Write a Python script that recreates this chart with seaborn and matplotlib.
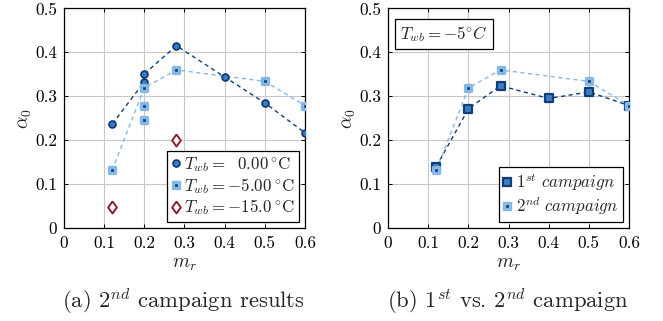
import matplotlib
matplotlib.use("Agg")
import matplotlib.pyplot as plt
from matplotlib.lines import Line2D
import seaborn as sns

# ---- data: (a) 2nd campaign results ----
mr_t0 = [0.12, 0.20, 0.20, 0.28, 0.40, 0.50, 0.60]
a0_t0 = [0.237, 0.333, 0.351, 0.415, 0.344, 0.285, 0.217]

mr_t5 = [0.12, 0.20, 0.20, 0.20, 0.28, 0.50, 0.60]
a0_t5 = [0.132, 0.319, 0.278, 0.245, 0.360, 0.334, 0.279]

mr_t15 = [0.12, 0.28]
a0_t15 = [0.049, 0.201]

# ---- data: (b) 1st vs 2nd campaign at Twb = -5 C ----
mr_c1 = [0.12, 0.20, 0.28, 0.40, 0.50, 0.60]
a0_c1 = [0.140, 0.272, 0.324, 0.295, 0.310, 0.279]

mr_c2 = [0.12, 0.20, 0.28, 0.50, 0.60]
a0_c2 = [0.132, 0.319, 0.360, 0.334, 0.279]

xticks = [0, 0.1, 0.2, 0.3, 0.4, 0.5, 0.6]
xticklabels = ["0", "0.1", "0.2", "0.3", "0.4", "0.5", "0.6"]
yticks = [0, 0.1, 0.2, 0.3, 0.4, 0.5]
yticklabels = ["0", "0.1", "0.2", "0.3", "0.4", "0.5"]

sns.set_theme(style="whitegrid")
plt.rcParams["font.family"] = ["cmr10", "DejaVu Serif"]
plt.rcParams["mathtext.fontset"] = "cm"
plt.rcParams["axes.formatter.use_mathtext"] = True

NAVY = "#0f3d78"
MID = "#3d7cc0"
LIGHT = "#86b8e6"
RED = "#8c1b2e"
TICK_FS = 12.4
DIAMOND = [(0, 1), (0.72, 0), (0, -1), (-0.72, 0), (0, 1)]

fig = plt.figure(figsize=(6.63, 3.21), dpi=100)
ax1 = fig.add_axes([0.0965, 0.289, 0.3635, 0.685])
ax2 = fig.add_axes([0.5855, 0.289, 0.3632, 0.685])


def style_axes(ax):
    ax.set_xlim(0, 0.6)
    ax.set_ylim(0, 0.5)
    ax.set_xticks(xticks)
    ax.set_xticklabels(xticklabels)
    ax.set_yticks(yticks)
    ax.set_yticklabels(yticklabels)
    ax.grid(True, color="#c8c8c8", linewidth=0.8)
    for s in ax.spines.values():
        s.set_color("black")
        s.set_linewidth(0.9)
    ax.tick_params(axis="both", direction="in", length=3, width=0.7,
                   top=True, right=True, bottom=True, left=True,
                   labelsize=TICK_FS, pad=5, colors="black")
    ax.set_xlabel(r"$m_r$", fontsize=14, labelpad=3)
    ax.set_ylabel(r"$\alpha_0$", fontsize=14, labelpad=1)
    ax.set_facecolor("white")


def dashed(ax, x, y, color):
    sns.lineplot(x=x, y=y, ax=ax, color=color, linestyle=(0, (3.0, 2.5)),
                 linewidth=1.0, sort=False, estimator=None, zorder=2)


def boxed_legend(ax, handles, labels):
    leg = ax.legend(handles, labels, loc="lower right", bbox_to_anchor=(0.975, 0.03),
                    fontsize=12.2, frameon=True, fancybox=False, edgecolor="black",
                    framealpha=1, handlelength=0.5, handletextpad=0.25,
                    borderpad=0.25, labelspacing=0.1, borderaxespad=0)
    leg.get_frame().set_linewidth(0.9)
    leg.set_zorder(10)
    return leg


# ---------- (a) ----------
dashed(ax1, mr_t0, a0_t0, NAVY)
dashed(ax1, [mr_t5[0], mr_t5[1], mr_t5[4], mr_t5[5], mr_t5[6]],
       [a0_t5[0], a0_t5[1], a0_t5[4], a0_t5[5], a0_t5[6]], LIGHT)

sns.scatterplot(x=mr_t0, y=a0_t0, ax=ax1, marker="o", s=24, color=MID,
                edgecolor=NAVY, linewidth=1.3, zorder=4)
sns.scatterplot(x=mr_t5, y=a0_t5, ax=ax1, marker="s", s=21, color=NAVY,
                edgecolor=LIGHT, linewidth=2.4, zorder=4)
sns.scatterplot(x=mr_t15, y=a0_t15, ax=ax1, marker=DIAMOND, s=75, color="white",
                edgecolor=RED, linewidth=1.4, zorder=4)
style_axes(ax1)

h1 = [
    Line2D([], [], linestyle="none", marker="o", markersize=4.9, markerfacecolor=MID,
           markeredgecolor=NAVY, markeredgewidth=1.3),
    Line2D([], [], linestyle="none", marker="s", markersize=4.5, markerfacecolor=NAVY,
           markeredgecolor=LIGHT, markeredgewidth=2.4),
    Line2D([], [], linestyle="none", marker=DIAMOND, markersize=8.6, markerfacecolor="white",
           markeredgecolor=RED, markeredgewidth=1.4),
]
l1 = [r"$T_{wb} = \ \ 0.00\,^{\circ}\mathrm{C}$",
      r"$T_{wb} = -5.00\,^{\circ}\mathrm{C}$",
      r"$T_{wb} = -15.0\,^{\circ}\mathrm{C}$"]
boxed_legend(ax1, h1, l1)

# ---------- (b) ----------
dashed(ax2, mr_c1, a0_c1, NAVY)
dashed(ax2, mr_c2, a0_c2, LIGHT)
sns.scatterplot(x=mr_c1, y=a0_c1, ax=ax2, marker="s", s=32, color=MID,
                edgecolor=NAVY, linewidth=1.6, zorder=4)
sns.scatterplot(x=mr_c2, y=a0_c2, ax=ax2, marker="s", s=21, color=NAVY,
                edgecolor=LIGHT, linewidth=2.4, zorder=5)
style_axes(ax2)

h2 = [
    Line2D([], [], linestyle="none", marker="s", markersize=5.6, markerfacecolor=MID,
           markeredgecolor=NAVY, markeredgewidth=1.6),
    Line2D([], [], linestyle="none", marker="s", markersize=4.5, markerfacecolor=NAVY,
           markeredgecolor=LIGHT, markeredgewidth=2.4),
]
l2 = [r"$1^{st}\ campaign$", r"$2^{nd}\ campaign$"]
boxed_legend(ax2, h2, l2)

ax2.text(0.05, 0.93, r"$T_{wb} = -5^{\circ}C$", transform=ax2.transAxes,
         fontsize=12.2, ha="left", va="top", zorder=10,
         bbox=dict(boxstyle="square,pad=0.3", facecolor="white",
                   edgecolor="black", linewidth=0.9))

# ---------- captions ----------
fig.text(0.2768, 0.04, r"(a) $2^{nd}$ campaign results", ha="center",
         va="baseline", fontsize=16.3)
fig.text(0.7655, 0.04, r"(b) $1^{st}$ vs. $2^{nd}$ campaign", ha="center",
         va="baseline", fontsize=16.3)

fig.savefig("out.png", dpi=100, facecolor="white")
